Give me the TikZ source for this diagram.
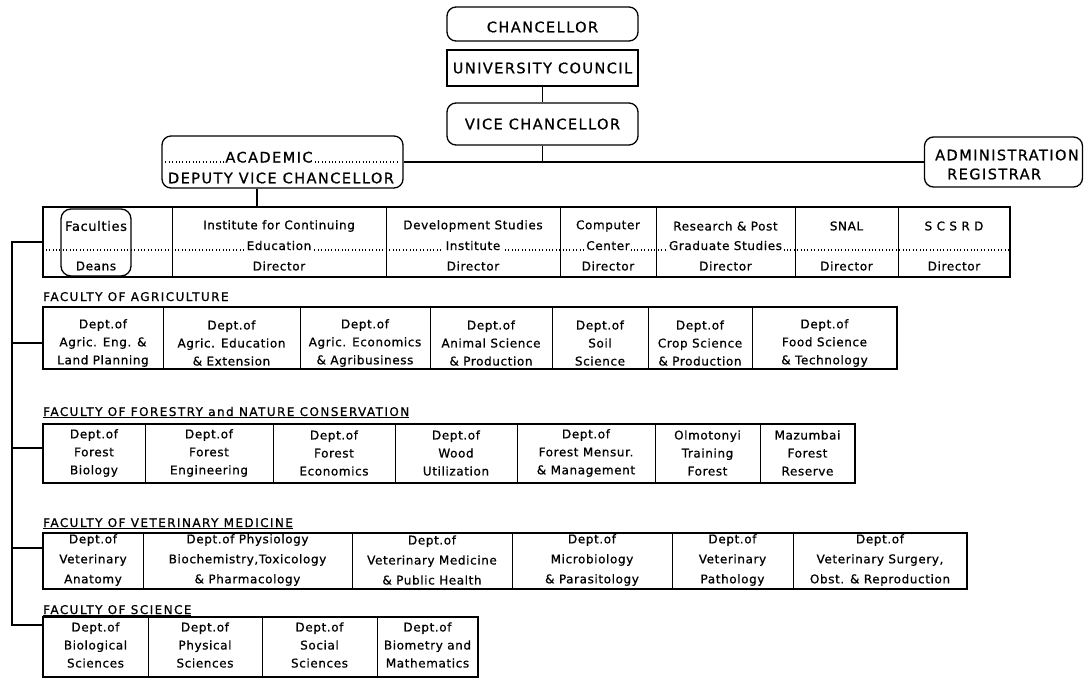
\documentclass[tikz,border=0pt]{standalone}
\usepackage{fontspec}
\setmainfont{DejaVu Sans}
\newfontfamily\cellface[LetterSpace=5, FakeBold=0.8]{DejaVu Sans}
\newfontfamily\headface[LetterSpace=10, FakeBold=0.8]{DejaVu Sans}
\newfontfamily\labface[LetterSpace=12, FakeBold=0.8]{DejaVu Sans}
\begin{document}
\begin{tikzpicture}[x=1pt,y=-1pt,
  rbox/.style={draw, line width=1.3pt, rounded corners=9pt, inner sep=0pt},
  sbox/.style={draw, line width=1.3pt, inner sep=0pt},
  head/.style={font=\headface\fontsize{14.5}{18}\selectfont, inner sep=0pt},
  cell/.style={font=\cellface\fontsize{12}{18}\selectfont, align=center, inner sep=0pt},
  cellw/.style={font=\cellface\fontsize{12}{20}\selectfont, align=center, inner sep=0pt},
  mid/.style={font=\cellface\fontsize{12}{18}\selectfont, fill=white, inner sep=1.2pt, anchor=base},
  lab/.style={font=\labface\fontsize{12}{14}\selectfont, anchor=base west, inner sep=0pt},
  sepline/.style={line width=1pt},
  dotline/.style={line width=1.2pt, dash pattern=on 1.1pt off 2.3pt},
  conn/.style={line width=1.2pt}
]
\fill[white] (0,0) rectangle (1085,688);
\useasboundingbox (0,0) rectangle (1085,688);

% ---------- top of the hierarchy ----------
\node[rbox, minimum width=191pt, minimum height=34pt] (chan) at (542.5,24) {};
\node[head] (chanT) at (542.5,27) {CHANCELLOR};
\node[sbox, minimum width=191pt, minimum height=36pt, head] (uc) at (542.5,68) {UNIVERSITY COUNCIL};
\node[rbox, minimum width=191pt, minimum height=42pt, head] (vc) at (542.5,124) {VICE CHANCELLOR};
\coordinate (hub) at (542.5,162);

\node[rbox, minimum width=241pt, minimum height=52pt] (acad) at (282.5,162) {};
\draw[dotline] ([xshift=4pt]acad.west) -- ([xshift=-4pt]acad.east);
\node[head, fill=white, inner sep=1.5pt, anchor=base] (acadT) at (269,162.5) {ACADEMIC};
\node[head] (dvc) at (281,178) {DEPUTY VICE CHANCELLOR};

\node[rbox, minimum width=158pt, minimum height=50pt] (admin) at (1003.5,162) {};
\node[head, anchor=west] (adminT) at (935,155) {ADMINISTRATION};
\node[head, anchor=west] (regT) at (947,174) {REGISTRAR};

\draw[sepline] (uc.south) -- (vc.north);
\draw[conn] (vc.south) -- (hub);
\draw[conn] (acad.east) -- (admin.west);

% ---------- units under the academic deputy ----------
\node[sbox, minimum width=967pt, minimum height=70pt] (units) at (526.5,242) {};
\draw[conn] ([xshift=-25.5pt]acad.south) -- ([xshift=-25.5pt]acad.south |- units.north);
\draw[dotline] (units.west) ++(0,8) coordinate (dl0) -- (dl0 -| units.east);
\foreach \x in {172,386,560,656,795,898}
  \draw[sepline] (units.north -| \x,0) -- (units.south -| \x,0);
\node[rbox, rounded corners=10pt, minimum width=70pt, minimum height=67pt] (fac) at (96,242.5) {};
\node[cell, font=\cellface\fontsize{13}{18}\selectfont] (facT) at (96,226) {Faculties};
\node[cell] (facD) at (96,266) {Deans};
\foreach [count=\i] \x/\t in {279/Institute for Continuing, 473/Development Studies,
    608/Computer, 725.5/Research \& Post, 846.5/SNAL, 954/S C S R D}
  \node[cell] (u\i) at (\x,226) {\t};
\foreach [count=\i] \x/\t in {279/Education, 473/Institute, 608/Center, 725.5/Graduate Studies}
  \node[mid] (m\i) at (\x,250) {\t};
\foreach [count=\i] \x in {279,473,608,725.5,846.5,954}
  \node[cell] (d\i) at (\x,266) {Director};

% ---------- faculties ----------
\node[lab] (labA) at (43,301) {FACULTY OF AGRICULTURE};
\node[sbox, minimum width=854pt, minimum height=62pt] (agri) at (470,338) {};
\foreach \x in {163,300,430,552,648,752}
  \draw[sepline] (agri.north -| \x,0) -- (agri.south -| \x,0);
\foreach [count=\i] \x/\t in {
    103/{Dept.of\\Agric. Eng. \&\\Land Planning},
    231.5/{Dept.of\\Agric. Education\\\& Extension},
    365/{Dept.of\\Agric. Economics\\\& Agribusiness},
    491/{Dept.of\\Animal Science\\\& Production},
    600/{Dept.of\\Soil\\Science},
    700/{Dept.of\\Crop Science\\\& Production},
    824.5/{Dept.of\\Food Science\\\& Technology}}
  \node[cell] (a\i) at (\x,343) {\t};

\node[lab] (labF) at (43,416) {\underline{FACULTY OF FORESTRY and NATURE CONSERVATION}};
\node[sbox, minimum width=812pt, minimum height=59pt] (forest) at (449,453.5) {};
\foreach \x in {145,273,395,517,655,760}
  \draw[sepline] (forest.north -| \x,0) -- (forest.south -| \x,0);
\foreach [count=\i] \x/\t in {
    94/{Dept.of\\Forest\\Biology},
    209/{Dept.of\\Forest\\Engineering},
    334/{Dept.of\\Forest\\Economics},
    456/{Dept.of\\Wood\\Utilization},
    586/{Dept.of\\Forest Mensur.\\\& Management},
    707.5/{Olmotonyi\\Training\\Forest},
    807.5/{Mazumbai\\Forest\\Reserve}}
  \node[cell] (f\i) at (\x,453) {\t};

\node[lab] (labV) at (43,527) {\underline{FACULTY OF VETERINARY MEDICINE}};
\node[sbox, minimum width=924pt, minimum height=56pt] (vet) at (505,561) {};
\foreach \x in {143,352,512,672,793}
  \draw[sepline] (vet.north -| \x,0) -- (vet.south -| \x,0);
\foreach [count=\i] \x/\t in {
    93/{Dept.of\\Veterinary\\Anatomy},
    247.5/{Dept.of Physiology\\Biochemistry,Toxicology\\\& Pharmacology},
    432/{Dept.of\\Veterinary Medicine\\\& Public Health},
    592/{Dept.of\\Microbiology\\\& Parasitology},
    732.5/{Dept.of\\Veterinary\\Pathology},
    880/{Dept.of\\Veterinary Surgery,\\Obst. \& Reproduction}}
  \node[cellw] (v\i) at (\x,560) {\t};

\node[lab] (labS) at (43,614) {\underline{FACULTY OF SCIENCE}};
\node[sbox, minimum width=435pt, minimum height=60pt] (sci) at (260.5,647) {};
\foreach \x in {148,262,377}
  \draw[sepline] (sci.north -| \x,0) -- (sci.south -| \x,0);
\foreach [count=\i] \x/\t in {
    95.5/{Dept.of\\Biological\\Sciences},
    205/{Dept.of\\Physical\\Sciences},
    319.5/{Dept.of\\Social\\Sciences},
    427.5/{Dept.of\\Biometry and\\Mathematics}}
  \node[cell] (s\i) at (\x,645) {\t};

% ---------- spine linking the faculties ----------
\coordinate (spTop) at (12,242);
\coordinate (brA) at (12,343);
\coordinate (brF) at (12,448);
\coordinate (brV) at (12,548);
\coordinate (brS) at (12,625);
\draw[conn] (units.west) -- (spTop) -- (brS) -- (brS -| sci.west);
\draw[conn] (brA) -- (brA -| agri.west);
\draw[conn] (brF) -- (brF -| forest.west);
\draw[conn] (brV) -- (brV -| vet.west);
\end{tikzpicture}
\end{document}
